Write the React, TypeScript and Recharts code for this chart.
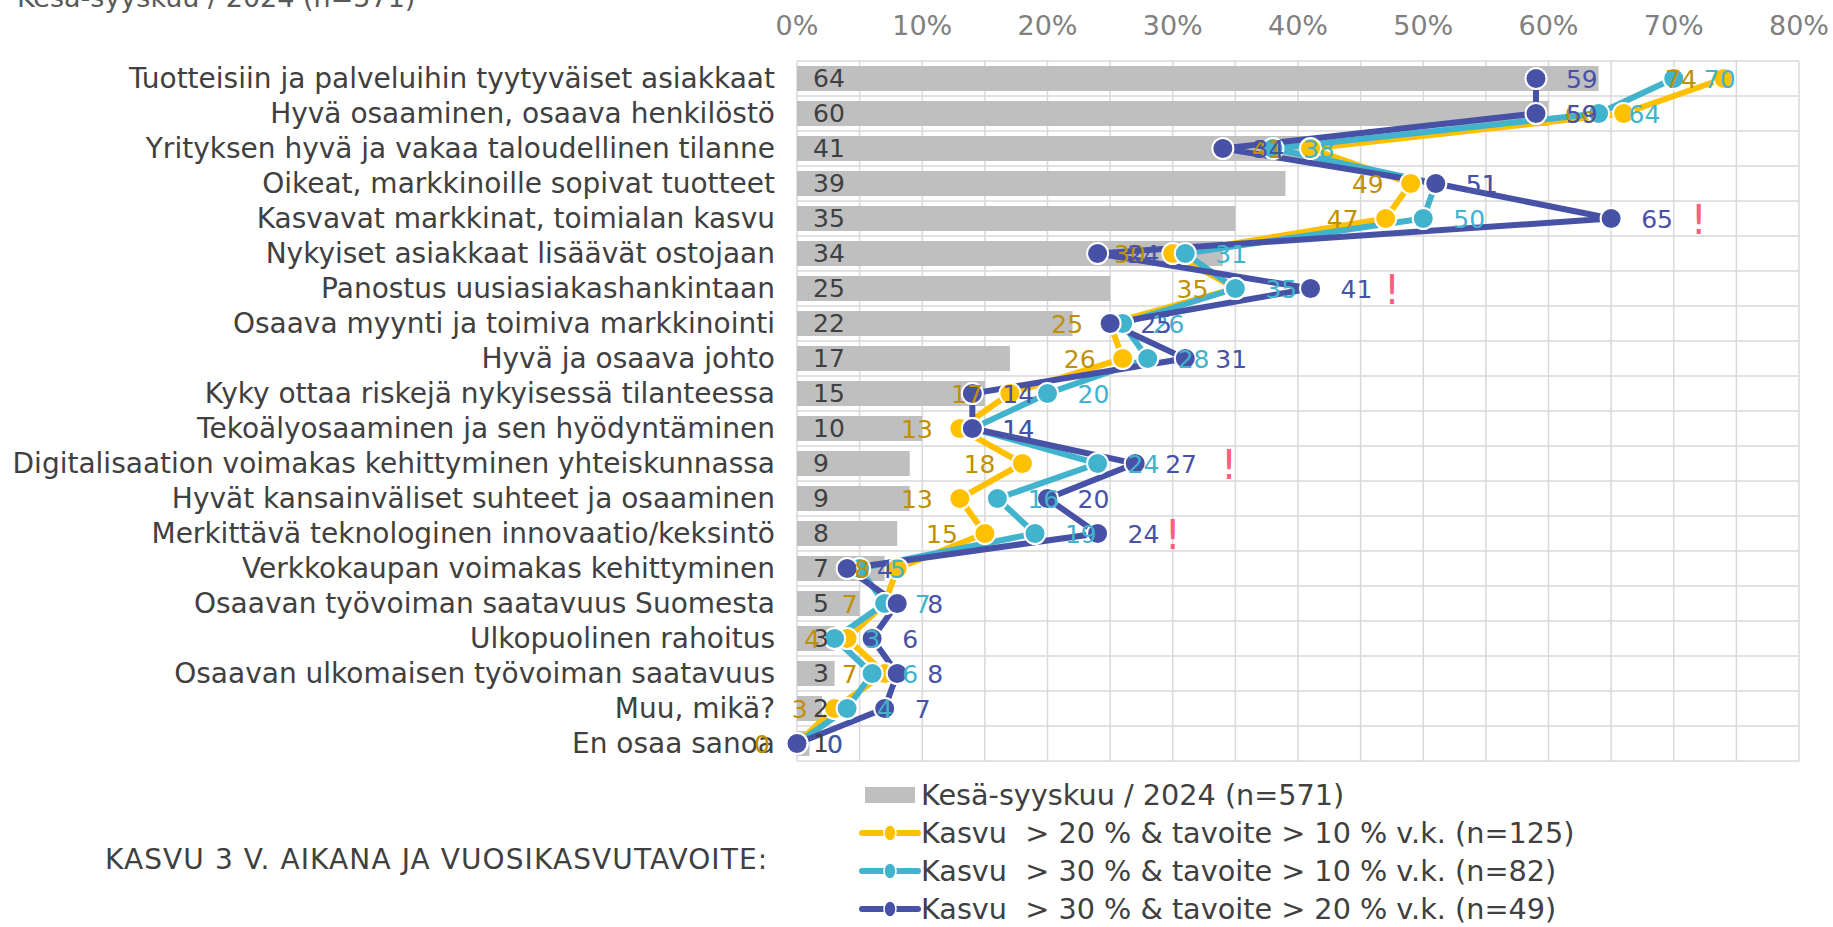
import React from 'react';
import { ComposedChart, Bar, Line, XAxis, YAxis, CartesianGrid, LabelList } from 'recharts';

const categories = [
  'Tuotteisiin ja palveluihin tyytyväiset asiakkaat',
  'Hyvä osaaminen, osaava henkilöstö',
  'Yrityksen hyvä ja vakaa taloudellinen tilanne',
  'Oikeat, markkinoille sopivat tuotteet',
  'Kasvavat markkinat, toimialan kasvu',
  'Nykyiset asiakkaat lisäävät ostojaan',
  'Panostus uusiasiakashankintaan',
  'Osaava myynti ja toimiva markkinointi',
  'Hyvä ja osaava johto',
  'Kyky ottaa riskejä nykyisessä tilanteessa',
  'Tekoälyosaaminen ja sen hyödyntäminen',
  'Digitalisaation voimakas kehittyminen yhteiskunnassa',
  'Hyvät kansainväliset suhteet ja osaaminen',
  'Merkittävä teknologinen innovaatio/keksintö',
  'Verkkokaupan voimakas kehittyminen',
  'Osaavan työvoiman saatavuus Suomesta',
  'Ulkopuolinen rahoitus',
  'Osaavan ulkomaisen työvoiman saatavuus',
  'Muu, mikä?',
  'En osaa sanoa',
];

const allValues = [64, 60, 41, 39, 35, 34, 25, 22, 17, 15, 10, 9, 9, 8, 7, 5, 3, 3, 2, 1];
const growth20Target10 = [74, 66, 41, 49, 47, 30, 35, 25, 26, 17, 13, 18, 13, 15, 8, 7, 4, 7, 3, 0];
const growth30Target10 = [70, 64, 38, 51, 50, 31, 35, 26, 28, 20, 14, 24, 16, 19, 5, 7, 3, 6, 4, 0];
const growth30Target20 = [59, 59, 34, 51, 65, 24, 41, 25, 31, 14, 14, 27, 20, 24, 4, 8, 6, 8, 7, 0];
const alertMarks: (number | null)[] = [null, null, null, null, 72, null, 47.5, null, null, null, null, 34.5, null, 30, null, null, null, null, null, null];

const xTicks = [0, 5, 10, 15, 20, 25, 30, 35, 40, 45, 50, 55, 60, 65, 70, 75, 80];

const titleText = 'Kesä-syyskuu / 2024 (n=571)';
const groupTitle = 'KASVU 3 V. AIKANA JA VUOSIKASVUTAVOITE:';
const seriesNames = [
  'Kesä-syyskuu / 2024 (n=571)',
  'Kasvu  > 20 % & tavoite > 10 % v.k. (n=125)',
  'Kasvu  > 30 % & tavoite > 10 % v.k. (n=82)',
  'Kasvu  > 30 % & tavoite > 20 % v.k. (n=49)',
];

const GRAY = '#BFBFBF';
const YELLOW = '#FFC000';
const YELLOW_LABEL = '#BF9000';
const CYAN = '#41B3CD';
const BLUE = '#4752A6';
const ALERT = '#FF5F7E';
const TEXT = '#404040';

const data = categories.map((name, i) => ({
  name,
  all: allValues[i],
  g1: growth20Target10[i],
  g2: growth30Target10[i],
  g3: growth30Target20[i],
  alert: alertMarks[i],
}));

const FONT = "'DejaVu Sans', Verdana, sans-serif";

const makeRightLabel = (color: string) => (props: any) => {
  const { x, y, value } = props;
  if (x == null || y == null) return null;
  return (
    <text x={x + 30} y={y} dy="0.36em" textAnchor="start" fill={color} fontSize={25} fontFamily={FONT}>
      {value}
    </text>
  );
};

const makeLeftLabel = (color: string) => (props: any) => {
  const { x, y, value } = props;
  if (x == null || y == null) return null;
  return (
    <text x={x - 27} y={y} dy="0.36em" textAnchor="end" fill={color} fontSize={25} fontFamily={FONT}>
      {value}
    </text>
  );
};

const AlertDot = (props: any) => {
  const { cx, cy, value, index } = props;
  if (cx == null || cy == null || value == null) return <g key={`a-${index}`} />;
  return (
    <text key={`a-${index}`} x={cx} y={cy} dy="0.38em" textAnchor="middle" fill={ALERT} fontSize={40} fontFamily={FONT}>
      !
    </text>
  );
};

const rowLines = (props: any) => {
  const off = props && props.offset ? props.offset : { top: 61, height: 700 };
  const n = categories.length;
  return Array.from({ length: n + 1 }, (_, i) => off.top + (i * off.height) / n);
};

export default function App() {
  const legendTop = 795;
  const legendStep = 38;
  const lineColors = [YELLOW, CYAN, BLUE];
  return (
    <div style={{ position: 'absolute', left: 0, top: 0, width: 1833, height: 927, background: '#fff', fontFamily: FONT }}>
      <ComposedChart
        width={1833}
        height={927}
        layout="vertical"
        data={data}
        margin={{ top: 0, right: 34, bottom: 166, left: 0 }}
        barCategoryGap={10}
      >
        <CartesianGrid
          stroke="#D9D9D9"
          strokeWidth={1.5}
          horizontalCoordinatesGenerator={rowLines}
        />
        <XAxis
          type="number"
          orientation="top"
          domain={[0, 80]}
          ticks={xTicks}
          interval={0}
          height={61}
          axisLine={false}
          tickLine={false}
          tickSize={0}
          tickMargin={26}
          tick={{ fill: '#808080', fontSize: 27, fontFamily: FONT }}
          tickFormatter={(v: number) => (v % 10 === 0 ? `${v}%` : '')}
        />
        <YAxis
          type="category"
          dataKey="name"
          width={797}
          interval={0}
          axisLine={false}
          tickLine={false}
          tickSize={0}
          tickMargin={22}
          tick={{ fill: TEXT, fontSize: 28, fontFamily: FONT }}
        />
        <Bar dataKey="all" fill={GRAY} barSize={25} isAnimationActive={false}>
          <LabelList dataKey="all" position="insideLeft" offset={16} fill={TEXT} fontSize={25} fontFamily={FONT} />
        </Bar>
        <Line
          dataKey="g1"
          stroke={YELLOW}
          strokeWidth={6}
          dot={{ r: 10.5, fill: YELLOW, stroke: '#fff', strokeWidth: 2 }}
          activeDot={false}
          isAnimationActive={false}
        >
          <LabelList dataKey="g1" content={makeLeftLabel(YELLOW_LABEL)} />
        </Line>
        <Line
          dataKey="g2"
          stroke={CYAN}
          strokeWidth={6}
          dot={{ r: 10.5, fill: CYAN, stroke: '#fff', strokeWidth: 2 }}
          activeDot={false}
          isAnimationActive={false}
        >
          <LabelList dataKey="g2" content={makeRightLabel(CYAN)} />
        </Line>
        <Line
          dataKey="g3"
          stroke={BLUE}
          strokeWidth={6}
          dot={{ r: 10.5, fill: BLUE, stroke: '#fff', strokeWidth: 2 }}
          activeDot={false}
          isAnimationActive={false}
        >
          <LabelList dataKey="g3" content={makeRightLabel(BLUE)} />
        </Line>
        <Line
          dataKey="alert"
          stroke="none"
          dot={AlertDot}
          activeDot={false}
          connectNulls={false}
          isAnimationActive={false}
        />
      </ComposedChart>
      <svg
        width={1833}
        height={927}
        style={{ position: 'absolute', left: 0, top: 0, pointerEvents: 'none' }}
      >
        <text x={17} y={7} fill="#595959" fontSize={27} fontFamily={FONT}>{titleText}</text>
        <text x={105} y={859} dy="0.36em" fill={TEXT} fontSize={28} letterSpacing={1.1} fontFamily={FONT}>{groupTitle}</text>
        <rect x={865} y={legendTop - 8} width={50} height={16} fill={GRAY} />
        {lineColors.map((c, i) => {
          const cy = legendTop + legendStep * (i + 1);
          return (
            <g key={c}>
              <line x1={862} x2={918} y1={cy} y2={cy} stroke={c} strokeWidth={6} strokeLinecap="round" />
              <ellipse cx={890} cy={cy} rx={6} ry={8} fill={c} stroke="#fff" strokeWidth={1.5} />
            </g>
          );
        })}
        {seriesNames.map((s, i) => (
          <text
            key={s}
            x={921}
            y={legendTop + legendStep * i}
            dy="0.36em"
            fill={TEXT}
            fontSize={28.7}
            fontFamily={FONT}
            style={{ whiteSpace: 'pre' }}
          >
            {s}
          </text>
        ))}
      </svg>
    </div>
  );
}
